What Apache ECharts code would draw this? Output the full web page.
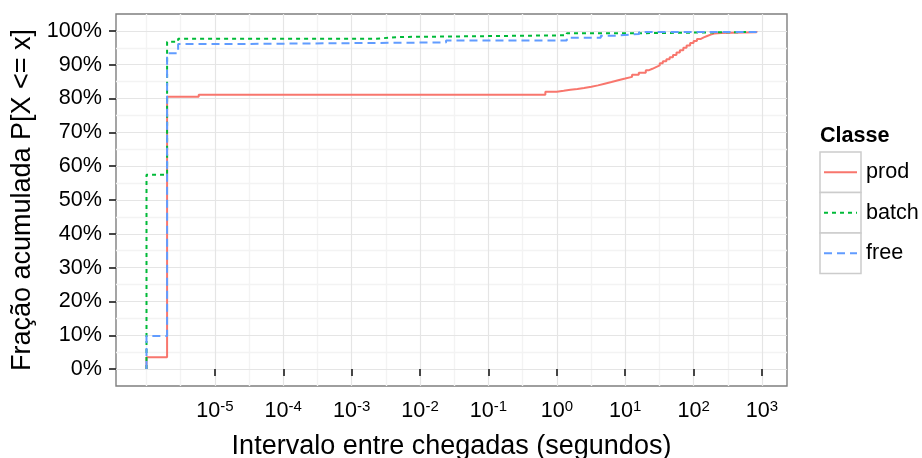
<!DOCTYPE html>
<html>
<head>
<meta charset="utf-8">
<script src="https://cdn.jsdelivr.net/npm/echarts@6/dist/echarts.min.js"></script>
<style>
  html, body { margin: 0; padding: 0; background: #ffffff; }
  #chart { width: 922px; height: 458px; }
</style>
</head>
<body>
<div id="chart"></div>
<script>
// Empirical CDF of inter-arrival times per job class (seconds, cumulative fraction)
const classes = ['prod', 'batch', 'free'];

const prodX = [1e-6, 1e-6, 2e-6, 5.8e-6, 0.68, 1.0, 1.26, 1.58, 2.0, 2.5, 3.2, 4.0, 5.0, 6.3, 7.9, 10,
               12.6, 15.8, 20, 22.4, 25, 28.2, 32, 35.5, 40, 44.7, 50, 56.2, 63, 70.8, 79, 89.1,
               100, 112, 126, 141, 158, 178, 200, 251, 830];
const prodY = [0, 0.035, 0.805, 0.811, 0.820, 0.823, 0.826, 0.828, 0.831, 0.835, 0.839, 0.844, 0.849, 0.854, 0.859, 0.864,
               0.870, 0.876, 0.884, 0.888, 0.893, 0.898, 0.904, 0.910, 0.916, 0.922, 0.929, 0.936, 0.943, 0.950, 0.957, 0.964,
               0.970, 0.976, 0.981, 0.985, 0.989, 0.992, 0.994, 0.996, 1.0];

const batchX = [1e-6, 1e-6, 2e-6, 2.9e-6, 0.0023, 0.005, 1.4, 14, 830];
const batchY = [0, 0.575, 0.968, 0.977, 0.982, 0.987, 0.993, 0.997, 1.0];

const freeX = [1e-6, 1e-6, 2e-6, 2.9e-6, 1.3e-5, 0.024, 1.4, 4.4, 7.5, 16, 830];
const freeY = [0, 0.098, 0.934, 0.961, 0.966, 0.972, 0.980, 0.986, 0.991, 0.997, 1.0];

// Axis breaks
const xTicks = [1e-5, 1e-4, 1e-3, 1e-2, 1e-1, 1e0, 1e1, 1e2, 1e3];
const xMinorExp = [-6, -5.5, -4.5, -3.5, -2.5, -1.5, -0.5, 0.5, 1.5, 2.5];
const yTicks = [0, 0.1, 0.2, 0.3, 0.4, 0.5, 0.6, 0.7, 0.8, 0.9, 1.0];
const yMinor = [0.05, 0.15, 0.25, 0.35, 0.45, 0.55, 0.65, 0.75, 0.85, 0.95];

const xTitle = 'Intervalo entre chegadas (segundos)';
const yTitle = 'Fração acumulada P[X <= x]';
const legendTitle = 'Classe';

const colors = ['#F8766D', '#00BA38', '#619CFF'];
const dashes = [null, [4, 4], [8, 5]];

const FONT = 'Liberation Sans, Arial, Helvetica, sans-serif';
const xMinorTicks = xMinorExp.map(e => Math.pow(10, e));
const xMin = Math.pow(10, -6.446);
const xMax = Math.pow(10, 3.366);

function pairs(xs, ys) { return xs.map((x, i) => [x, ys[i]]); }
const seriesData = [pairs(prodX, prodY), pairs(batchX, batchY), pairs(freeX, freeY)];

const chart = echarts.init(document.getElementById('chart'), null, { renderer: 'canvas' });

const hidden = { axisLine: { show: false }, axisLabel: { show: false } };

// Legend: boxed keys with a line sample and label each
const KEY_X = 820, KEY_Y = 152, KEY_W = 41, KEY_H = 40.5;
const legendGraphics = [
  { type: 'text', left: KEY_X, top: 125, z: 5,
    style: { text: legendTitle, font: 'bold 21.6px ' + FONT, fill: '#000000' } }
];
classes.forEach((c, i) => {
  const cy = KEY_Y + i * KEY_H + KEY_H / 2;
  legendGraphics.push(
    { type: 'rect', z: 4, silent: true,
      shape: { x: KEY_X, y: KEY_Y + i * KEY_H, width: KEY_W, height: KEY_H },
      style: { fill: '#ffffff', stroke: '#CCCCCC', lineWidth: 1.5 } },
    { type: 'line', z: 5, silent: true,
      shape: { x1: KEY_X + 4, y1: cy, x2: KEY_X + KEY_W - 4, y2: cy },
      style: { stroke: colors[i], lineWidth: 2, lineDash: dashes[i] } },
    { type: 'text', z: 5, silent: true, x: KEY_X + KEY_W + 5, y: cy,
      style: { text: c, font: '21.6px ' + FONT, fill: '#000000', verticalAlign: 'middle' } }
  );
});

chart.setOption({
  animation: false,
  backgroundColor: '#ffffff',
  textStyle: { fontFamily: FONT },
  grid: {
    left: 116, right: 135, top: 14, bottom: 72,
    containLabel: false, outerBoundsMode: 'none',
    show: true, borderColor: '#7F7F7F', borderWidth: 1.4, backgroundColor: '#ffffff'
  },
  xAxis: [
    {
      type: 'log', min: xMin, max: xMax, position: 'bottom', z: 1,
      axisLine: { show: false },
      axisTick: { show: true, length: 7, lineStyle: { color: '#333333', width: 1.8 }, customValues: xTicks },
      axisLabel: {
        customValues: xTicks, margin: 13, color: '#000000', fontSize: 21.6, fontFamily: FONT,
        formatter: v => '10{sup|' + Math.round(Math.log10(v)) + '}',
        rich: { sup: { fontSize: 15, fontFamily: FONT, color: '#000000', verticalAlign: 'top', padding: [0, 0, 10, 0] } }
      },
      splitLine: { show: true, lineStyle: { color: '#E5E5E5', width: 1.2 } },
      name: xTitle, nameLocation: 'middle', nameGap: 47,
      nameTextStyle: { fontSize: 27, color: '#000000', fontFamily: FONT }
    },
    Object.assign({
      type: 'log', min: xMin, max: xMax, position: 'top', z: 0,
      axisTick: { show: false, customValues: xMinorTicks },
      splitLine: { show: true, lineStyle: { color: '#F3F3F3', width: 1.4 } }
    }, hidden)
  ],
  yAxis: [
    {
      type: 'value', min: -0.05, max: 1.05, position: 'left', z: 1,
      axisLine: { show: false },
      axisTick: { show: true, length: 7, lineStyle: { color: '#333333', width: 1.8 }, customValues: yTicks },
      axisLabel: {
        customValues: yTicks, margin: 14, color: '#000000', fontSize: 21.6, fontFamily: FONT,
        formatter: v => Math.round(v * 100) + '%'
      },
      splitLine: { show: true, lineStyle: { color: '#E5E5E5', width: 1.2 } },
      name: yTitle, nameLocation: 'middle', nameRotate: 90, nameGap: 71,
      nameTextStyle: { fontSize: 27, color: '#000000', fontFamily: FONT }
    },
    Object.assign({
      type: 'value', min: -0.05, max: 1.05, position: 'right', z: 0,
      axisTick: { show: false, customValues: yMinor },
      splitLine: { show: true, lineStyle: { color: '#F3F3F3', width: 1.4 } }
    }, hidden)
  ],
  graphic: legendGraphics,
  series: classes.map((c, i) => ({
    name: c,
    type: 'line',
    step: 'end',
    xAxisIndex: 0,
    yAxisIndex: 0,
    symbol: 'none',
    showSymbol: false,
    clip: true,
    lineStyle: { color: colors[i], width: 2, type: dashes[i] || 'solid' },
    itemStyle: { color: colors[i] },
    data: seriesData[i],
    z: 2 + i
  }))
});
</script>
</body>
</html>
